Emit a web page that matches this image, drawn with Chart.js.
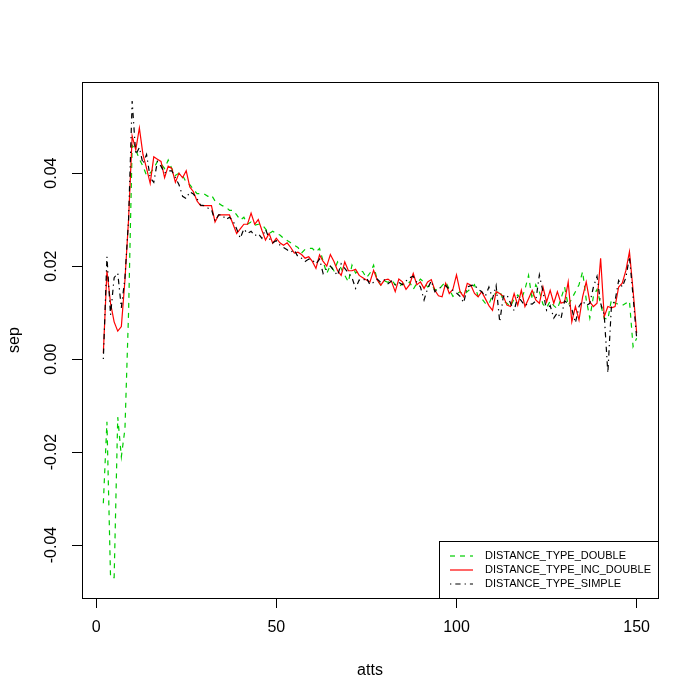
<!DOCTYPE html>
<html>
<head>
<meta charset="utf-8">
<title>sep vs atts</title>
<script src="https://cdn.jsdelivr.net/npm/chart.js@4.4.1/dist/chart.umd.min.js"></script>
<style>
  body { margin: 0; background: #fff; }
  #plot { display: block; }
</style>
</head>
<body>
<canvas id="plot" width="700" height="700"></canvas>
<script>
// number of attributes (x)
const atts = [
  2, 3, 4, 5, 6, 7, 8, 9, 10,
  11, 12, 13, 14, 15, 16, 17, 18, 19, 20,
  21, 22, 23, 24, 25, 26, 27, 28, 29, 30,
  31, 32, 33, 34, 35, 36, 37, 38, 39, 40,
  41, 42, 43, 44, 45, 46, 47, 48, 49, 50,
  51, 52, 53, 54, 55, 56, 57, 58, 59, 60,
  61, 62, 63, 64, 65, 66, 67, 68, 69, 70,
  71, 72, 73, 74, 75, 76, 77, 78, 79, 80,
  81, 82, 83, 84, 85, 86, 87, 88, 89, 90,
  91, 92, 93, 94, 95, 96, 97, 98, 99, 100,
  101, 102, 103, 104, 105, 106, 107, 108, 109, 110,
  111, 112, 113, 114, 115, 116, 117, 118, 119, 120,
  121, 122, 123, 124, 125, 126, 127, 128, 129, 130,
  131, 132, 133, 134, 135, 136, 137, 138, 139, 140,
  141, 142, 143, 144, 145, 146, 147, 148, 149, 150
];

// sep, DISTANCE_TYPE_DOUBLE
const sepDouble = [
  -0.031, -0.0135, -0.047, -0.047, -0.0125, -0.021, -0.015, 0.010, 0.046,
  0.045, 0.043, 0.0415, 0.0395, 0.040, 0.041, 0.0425, 0.042, 0.041, 0.0428,
  0.041, 0.0395, 0.040, 0.0395, 0.038, 0.0375, 0.0365, 0.0356, 0.0356, 0.0355,
  0.035, 0.0353, 0.034, 0.0335, 0.033, 0.0327, 0.032, 0.032, 0.031, 0.0299,
  0.0305, 0.029, 0.0295, 0.0288, 0.029, 0.029, 0.028, 0.027, 0.0275, 0.027,
  0.0267, 0.026, 0.0255, 0.025, 0.0245, 0.024, 0.0228, 0.0236, 0.0238, 0.0238,
  0.023, 0.0238, 0.021, 0.0184, 0.0202, 0.019, 0.0209, 0.0195, 0.018, 0.0166,
  0.0202, 0.0185, 0.0191, 0.0188, 0.0175, 0.0185, 0.0202, 0.017, 0.0159, 0.0168,
  0.0165, 0.017, 0.016, 0.0155, 0.0162, 0.016, 0.0166, 0.015, 0.0163, 0.0172,
  0.0165, 0.0155, 0.016, 0.015, 0.0148, 0.0158, 0.0166, 0.015, 0.0135, 0.014,
  0.0145, 0.0138, 0.0145, 0.0152, 0.016, 0.0135, 0.013, 0.012, 0.0118, 0.0138,
  0.0141, 0.0148, 0.0125, 0.012, 0.0113, 0.013, 0.0138, 0.0128, 0.015, 0.018,
  0.0128, 0.016, 0.0145, 0.0118, 0.011, 0.0125, 0.0115, 0.0108, 0.013, 0.0155,
  0.0115, 0.013, 0.0145, 0.016, 0.0188, 0.0128, 0.0088, 0.0135, 0.015, 0.0118,
  0.0088, 0.0085, 0.0128, 0.012, 0.0118, 0.0115, 0.012, 0.0125, 0.0027, 0.0045
];

// sep, DISTANCE_TYPE_INC_DOUBLE
const sepIncDouble = [
  0.0013, 0.019, 0.012, 0.008, 0.006, 0.007, 0.017, 0.030, 0.048,
  0.045, 0.0497, 0.044, 0.041, 0.0378, 0.0435, 0.043, 0.0425, 0.039, 0.0415,
  0.041, 0.038, 0.040, 0.039, 0.0405, 0.037, 0.036, 0.034, 0.033, 0.033,
  0.033, 0.033, 0.0295, 0.031, 0.031, 0.031, 0.031, 0.029, 0.027, 0.028,
  0.029, 0.029, 0.0314, 0.029, 0.030, 0.0277, 0.0256, 0.027, 0.0249, 0.026,
  0.025, 0.0245, 0.025, 0.024, 0.0228, 0.023, 0.0225, 0.0217, 0.022, 0.021,
  0.0195, 0.0224, 0.021, 0.020, 0.0225, 0.021, 0.019, 0.018, 0.0209, 0.019,
  0.019, 0.0193, 0.018, 0.0175, 0.017, 0.0166, 0.0191, 0.017, 0.0159, 0.017,
  0.0172, 0.0166, 0.0145, 0.0172, 0.0166, 0.015, 0.016, 0.0184, 0.016, 0.0166,
  0.0152, 0.0166, 0.0171, 0.0148, 0.0136, 0.0134, 0.0163, 0.0141, 0.015, 0.0181,
  0.0145, 0.0134, 0.0163, 0.0159, 0.0141, 0.0134, 0.0145, 0.013, 0.0115, 0.0105,
  0.0145, 0.0141, 0.0135, 0.0116, 0.0113, 0.0141, 0.0116, 0.0148, 0.0113, 0.013,
  0.0148, 0.0127, 0.012, 0.0155, 0.0123, 0.0148, 0.012, 0.0145, 0.012, 0.0123,
  0.0166, 0.008, 0.0113, 0.0084, 0.0134, 0.0166, 0.0123, 0.0113, 0.012, 0.0217,
  0.0091, 0.0113, 0.011, 0.0113, 0.0155, 0.0163, 0.019, 0.0231, 0.0148, 0.0056
];

// sep, DISTANCE_TYPE_SIMPLE
const sepSimple = [
  0.000, 0.022, 0.0095, 0.0175, 0.0185, 0.011, 0.0175, 0.030, 0.0555,
  0.044, 0.0455, 0.042, 0.044, 0.039, 0.038, 0.0425, 0.0415, 0.040, 0.0405,
  0.0405, 0.039, 0.0375, 0.035, 0.0345, 0.036, 0.0355, 0.0345, 0.0331, 0.033,
  0.0325, 0.0322, 0.0297, 0.031, 0.031, 0.030, 0.0305, 0.0297, 0.028, 0.026,
  0.028, 0.027, 0.0275, 0.0265, 0.027, 0.026, 0.0279, 0.026, 0.025, 0.0255,
  0.0245, 0.024, 0.0235, 0.023, 0.0235, 0.022, 0.0217, 0.021, 0.0215, 0.0213,
  0.0205, 0.0215, 0.0184, 0.0195, 0.020, 0.019, 0.018, 0.0205, 0.0195, 0.0185,
  0.0175, 0.0152, 0.017, 0.0168, 0.0175, 0.016, 0.0165, 0.0172, 0.0165, 0.017,
  0.0162, 0.0168, 0.016, 0.0165, 0.016, 0.0168, 0.0175, 0.0178, 0.0165, 0.0155,
  0.0127, 0.0152, 0.0168, 0.0145, 0.0152, 0.0155, 0.0158, 0.015, 0.0148, 0.0142,
  0.0135, 0.0121, 0.0155, 0.0158, 0.016, 0.015, 0.0145, 0.0135, 0.0155, 0.013,
  0.0158, 0.008, 0.0135, 0.0138, 0.012, 0.0104, 0.0135, 0.0125, 0.0115, 0.012,
  0.0118, 0.0125, 0.0181, 0.0145, 0.0105, 0.0115, 0.0088, 0.010, 0.0087, 0.0125,
  0.012, 0.0108, 0.0078, 0.0113, 0.0125, 0.0115, 0.012, 0.0155, 0.0178, 0.012,
  0.0095, -0.003, 0.0115, 0.0125, 0.0169, 0.0155, 0.0175, 0.022, 0.0135, 0.0045
];

const xTicks = [0, 50, 100, 150];
const yTicks = [-0.04, -0.02, 0.00, 0.02, 0.04];

const FONT = '"Liberation Sans", Arial, Helvetica, sans-serif';

const toPoints = vals => atts.map((a, i) => ({ x: a, y: vals[i] }));

// R style box + legend in the lower right corner
const boxAndLegend = {
  id: 'boxAndLegend',
  afterDraw(chart) {
    const ctx = chart.ctx;
    const a = chart.chartArea;
    ctx.save();
    ctx.strokeStyle = '#000';
    ctx.lineWidth = 1;
    ctx.setLineDash([]);
    ctx.strokeRect(a.left + 0.5, a.top + 0.5, a.right - a.left, a.bottom - a.top);

    // legend
    const lx = 439.5, ly = 541.5;
    ctx.strokeRect(lx, ly, a.right + 0.5 - lx, a.bottom + 0.5 - ly);
    ctx.font = '11px ' + FONT;
    ctx.textBaseline = 'middle';
    ctx.textAlign = 'left';
    chart.data.datasets.forEach((ds, i) => {
      const y = 556 + i * 14;
      ctx.strokeStyle = ds.borderColor;
      ctx.lineWidth = ds.borderWidth;
      ctx.setLineDash(ds.borderDash || []);
      ctx.beginPath();
      ctx.moveTo(450, y);
      ctx.lineTo(473, y);
      ctx.stroke();
      ctx.setLineDash([]);
      ctx.fillStyle = '#000';
      ctx.fillText(ds.label, 485, y);
    });
    ctx.restore();
  }
};

new Chart(document.getElementById('plot'), {
  type: 'line',
  data: {
    datasets: [
      {
        label: 'DISTANCE_TYPE_DOUBLE',
        data: toPoints(sepDouble),
        borderColor: '#00CD00',
        borderWidth: 1.2,
        borderDash: [5, 5],
        pointRadius: 0,
        order: 3
      },
      {
        label: 'DISTANCE_TYPE_INC_DOUBLE',
        data: toPoints(sepIncDouble),
        borderColor: '#FF0000',
        borderWidth: 1.2,
        pointRadius: 0,
        order: 2
      },
      {
        label: 'DISTANCE_TYPE_SIMPLE',
        data: toPoints(sepSimple),
        borderColor: '#000000',
        borderWidth: 1.2,
        borderDash: [1.3, 4, 5.3, 4],
        pointRadius: 0,
        order: 1
      }
    ]
  },
  options: {
    responsive: false,
    animation: false,
    devicePixelRatio: 1,
    layout: { padding: { top: 82, right: 42, left: 0, bottom: 0 } },
    elements: { line: { tension: 0, fill: false } },
    plugins: {
      legend: { display: false },
      tooltip: { enabled: false }
    },
    scales: {
      x: {
        type: 'linear',
        min: -3.92,
        max: 155.92,
        afterBuildTicks: s => { s.ticks = xTicks.map(v => ({ value: v })); },
        afterFit: s => { s.height = 102; },
        grid: { drawOnChartArea: false, drawTicks: true, tickLength: 10, color: '#000', lineWidth: 1 },
        border: { display: false },
        ticks: {
          autoSkip: false,
          maxRotation: 0,
          padding: 10,
          color: '#000',
          font: { family: FONT, size: 16 },
          callback: v => String(v)
        },
        title: {
          display: true,
          text: 'atts',
          color: '#000',
          font: { family: FONT, size: 16 },
          padding: { top: 0, bottom: 20 }
        }
      },
      y: {
        type: 'linear',
        min: -0.0514,
        max: 0.0596,
        afterBuildTicks: s => { s.ticks = yTicks.map(v => ({ value: v })); },
        afterFit: s => { s.width = 82; },
        grid: { drawOnChartArea: false, drawTicks: true, tickLength: 10, color: '#000', lineWidth: 1 },
        border: { display: false },
        ticks: {
          autoSkip: false,
          minRotation: 90,
          maxRotation: 90,
          crossAlign: 'center',
          padding: 2,
          color: '#000',
          font: { family: FONT, size: 16 },
          callback: v => v.toFixed(2)
        },
        title: {
          display: true,
          text: 'sep',
          color: '#000',
          font: { family: FONT, size: 16 },
          padding: { top: 5, bottom: 0 }
        }
      }
    }
  },
  plugins: [boxAndLegend]
});
</script>
</body>
</html>
